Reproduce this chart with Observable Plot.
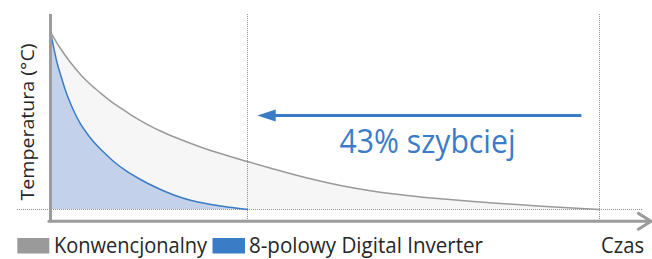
<!DOCTYPE html>
<html>
<head>
<meta charset="utf-8">
<script src="https://cdn.jsdelivr.net/npm/d3@7"></script>
<script src="https://cdn.jsdelivr.net/npm/@observablehq/plot@0.6"></script>
<style>
  html, body { margin: 0; padding: 0; background: #fff; }
  #chart { width: 652px; height: 259px; overflow: hidden; }
  #chart svg { display: block; }
</style>
</head>
<body>
<div id="chart"></div>
<script>
// ---- data ----
const seriesNames = ["Konwencjonalny", "8-polowy Digital Inverter"];
const gapLabel = "43% szybciej";
const yLabel = "Temperatura (°C)";
const xLabel = "Czas";

// Conventional unit: time (0..100) vs. temperature above target (0..100)
const timeConv = [0, 1.82, 3.64, 5.46, 7.29, 9.11, 10.93, 12.75, 14.57, 16.39, 18.21, 20.04, 21.86, 23.68, 27.32, 30.97, 35.88, 40.62, 46.76, 52.82, 58.83, 64.97, 71.04, 76.5, 81.97, 87.43, 93.44, 100];
const tempConv = [100, 90.7, 82.8, 76.1, 70.4, 65.6, 61.1, 57.2, 53.5, 50.1, 47.0, 44.2, 41.7, 39.4, 35.2, 31.5, 27.0, 22.8, 17.7, 13.5, 10.3, 7.9, 6.0, 4.6, 3.4, 2.3, 1.1, 0];

// 8-pole Digital Inverter
const timeInv = [0, 0.55, 1.18, 1.82, 2.73, 3.64, 4.55, 5.46, 6.92, 8.38, 10.02, 11.84, 13.66, 16.39, 19.44, 22.46, 25.5, 28.54, 30.97, 33.33, 35.88];
const tempInv = [100, 91.8, 82.8, 76.1, 67.0, 59.7, 53.5, 48.2, 41.7, 36.3, 31.3, 26.2, 22.0, 16.9, 12.1, 8.2, 5.2, 3.2, 2.0, 1.0, 0];

// end times of the two curves (dotted markers)
const endTimes = [35.88, 100];

// ---- styles ----
const blue = "#3b7cc6";
const blueFill = "#c3d1ea";
const grayLine = "#9a9a9a";
const grayFill = "#f6f6f6";
const axisColor = "#9c9c9c";
const dotColor = "#8c8c8c";
const textColor = "#262626";
const font = "'Open Sans', 'DejaVu Sans', sans-serif";

const conv = timeConv.map((t, i) => ({t, v: tempConv[i]}));
const inv = timeInv.map((t, i) => ({t, v: tempInv[i]}));

// annotation arrow (from the conventional end back to the inverter end)
const arrowSpec = [{from: 96.8, to: 37.65, base: 40.9, y: 53}];

const leftHead = {
  draw(context) {
    context.moveTo(0, 0);
    context.lineTo(18.5, -6);
    context.lineTo(18.5, 6);
    context.closePath();
  }
};

const plot = Plot.plot({
  width: 652,
  height: 226,
  marginLeft: 50,
  marginRight: 53,
  marginTop: 31.5,
  marginBottom: 17,
  x: {domain: [0, 100], axis: null},
  y: {domain: [0, 100], axis: null},
  style: {background: "transparent", fontFamily: font, overflow: "visible"},
  marks: [
    Plot.areaY(conv, {x: "t", y: "v", fill: grayFill, curve: "monotone-x"}),
    Plot.areaY(inv, {x: "t", y: "v", fill: blueFill, curve: "monotone-x"}),
    Plot.ruleY([0], {x1: -6, x2: 108, stroke: dotColor, strokeWidth: 1, strokeDasharray: "1,1"}),
    Plot.ruleX(endTimes, {y1: -6.8, y2: 109.9, stroke: dotColor, strokeWidth: 1, strokeDasharray: "1,1"}),
    Plot.lineY(conv, {x: "t", y: "v", stroke: grayLine, strokeWidth: 1.5, curve: "monotone-x"}),
    Plot.lineY(inv, {x: "t", y: "v", stroke: blue, strokeWidth: 1.5, curve: "monotone-x"}),
    // axes
    Plot.ruleX([0], {y1: -7.4, y2: 109.9, stroke: axisColor, strokeWidth: 3}),
    Plot.arrow([0], {x1: -0.3, x2: 109.4, y1: -6.65, y2: -6.65, stroke: axisColor, strokeWidth: 3, headLength: 7.5, headAngle: 64}),
    // annotation arrow
    Plot.ruleY(arrowSpec, {y: "y", x1: "from", x2: "base", stroke: blue, strokeWidth: 3}),
    Plot.dot(arrowSpec, {x: "to", y: "y", r: 5, symbol: leftHead, fill: blue, stroke: "none"}),
    Plot.text([gapLabel], {x: 68.67, y: 37.8, text: d => d, fontSize: 32, fill: blue, fontFamily: font}),
    Plot.text([yLabel], {x: -4.1, y: 49.3, text: d => d, rotate: -90, fontSize: 19, fill: textColor, fontFamily: font})
  ]
});

// fit texts to the widths measured on the reference
const fitWidths = {[gapLabel]: 176, [yLabel]: 157};
d3.select(plot).selectAll("text").each(function() {
  const w = fitWidths[this.textContent];
  if (w) d3.select(this).attr("textLength", w).attr("lengthAdjust", "spacingAndGlyphs");
});

document.getElementById("chart").appendChild(plot);

// ---- legend row below the plot ----
const legend = d3.create("svg")
  .attr("width", 652)
  .attr("height", 33)
  .style("display", "block")
  .style("font-family", font);

const legendItems = [
  {kind: "rect", x: 17.3, w: 32, color: "#9a9a9a"},
  {kind: "text", x: 54, text: seriesNames[0], len: 153},
  {kind: "rect", x: 212.5, w: 32.5, color: blue},
  {kind: "text", x: 249, text: seriesNames[1], len: 234},
  {kind: "text", x: 601, text: xLabel, len: 43}
];
for (const it of legendItems) {
  if (it.kind === "rect") {
    legend.append("rect").attr("x", it.x).attr("y", 12).attr("width", it.w).attr("height", 15.5).attr("fill", it.color);
  } else {
    legend.append("text").attr("x", it.x).attr("y", 26.5)
      .attr("font-size", 21).attr("fill", textColor)
      .attr("textLength", it.len).attr("lengthAdjust", "spacingAndGlyphs")
      .text(it.text);
  }
}
document.getElementById("chart").appendChild(legend.node());
</script>
</body>
</html>
